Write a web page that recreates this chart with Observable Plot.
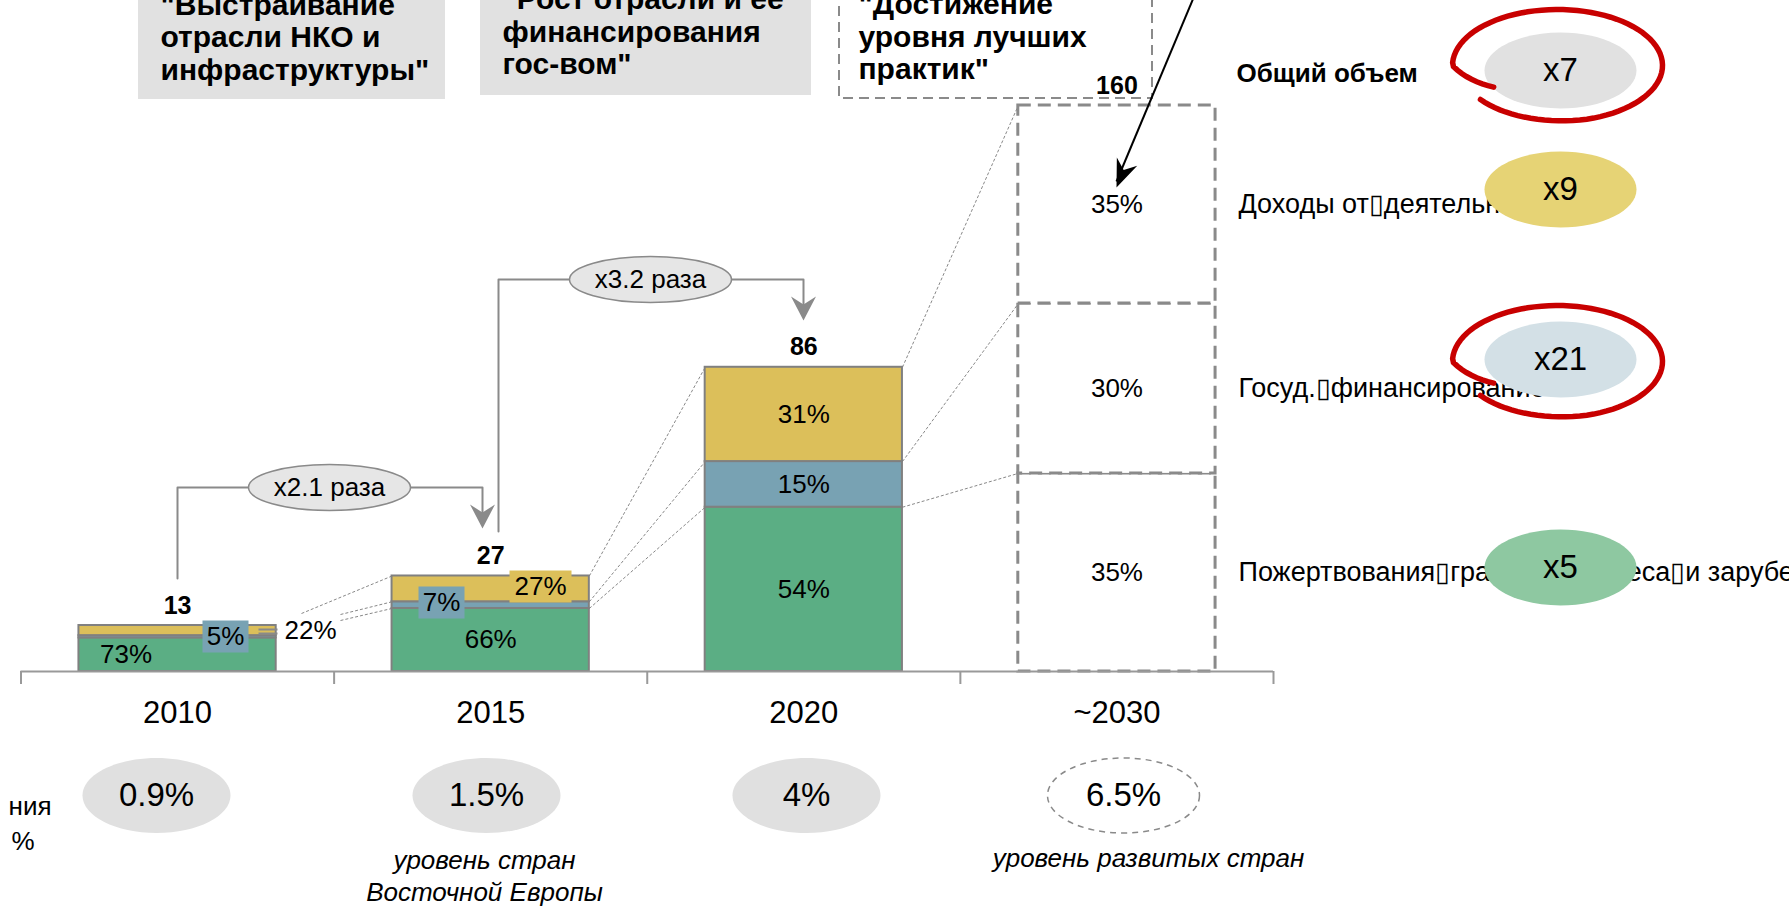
<!DOCTYPE html>
<html><head><meta charset="utf-8">
<script src="https://cdn.jsdelivr.net/npm/d3@7"></script>
<script src="https://cdn.jsdelivr.net/npm/@observablehq/plot@0.6"></script>
<style>html,body{margin:0;padding:0;background:#fff;overflow:hidden} svg{display:block}</style>
</head><body><div id="chart"></div>
<script>
// ---------------- DATA ----------------
const years = ["2010", "2015", "2020", "~2030"];
const totals = [13, 27, 86, 160];
const seriesNames = ["Пожертвования", "Госуд. финансирование", "Доходы от деятельности"]; // bottom → top
const seriesColors = ["#5BAE84", "#78A2B3", "#DCBF5A"];
const shareDonations = [73, 66, 54, 35];
const shareGov = [5, 7, 15, 30];
const shareIncome = [22, 27, 31, 35];
const gdpShare = ["0.9%", "1.5%", "4%", "6.5%"];
const growthLabels = ["x2.1 раза", "x3.2 раза"];
const multiplierLabels = ["x7", "x9", "x21", "x5"]; // total, income, gov, donations
const multiplierColors = ["#E1E1E1", "#E6D375", "#D3E0E6", "#8EC8A1"];
const rightLabels = ["Общий объем", "Доходы от\u25AFдеятельности", "Госуд.\u25AFфинансирование", "Пожертвования\u25AFграждан, бизнеса\u25AFи зарубежных фондов"];
const headerLines = [
  ['"Выстраивание', 'отрасли НКО и', 'инфраструктуры"'],
  ['"Рост отрасли и ее', 'финансирования', 'гос-вом"'],
  ['"Достижение', 'уровня лучших', 'практик"']
];
const notes = ["уровень стран\nВосточной Европы", "уровень развитых стран"];
const sideTexts = ["ния", "%"];

// ---------------- LAYOUT helpers (pixel → data units) ----------------
const W = 1789, H = 908;
const X0 = 20.5, X4 = 1273, Y0 = 671, Y160 = 105;
const fx = px => (px - X0) / ((X4 - X0) / 4);
const fy = py => (Y0 - py) / ((Y0 - Y160) / 160);
const pad = 0.185;
const FONT = "'Liberation Sans', Arial, sans-serif";
const GRAY = "#8a8a8a";

// custom symbols
const ellipse = (rx, ry) => ({draw(c) {
  const k = 0.5523;
  c.moveTo(rx, 0);
  c.bezierCurveTo(rx, k * ry, k * rx, ry, 0, ry);
  c.bezierCurveTo(-k * rx, ry, -rx, k * ry, -rx, 0);
  c.bezierCurveTo(-rx, -k * ry, -k * rx, -ry, 0, -ry);
  c.bezierCurveTo(k * rx, -ry, rx, -k * ry, rx, 0);
  c.closePath();
}});
const box = (w, h) => ({draw(c) {
  c.moveTo(-w / 2, -h / 2); c.lineTo(w / 2, -h / 2); c.lineTo(w / 2, h / 2); c.lineTo(-w / 2, h / 2); c.closePath();
}});
const head = (w, L, notch) => ({draw(c) {
  c.moveTo(0, 0); c.lineTo(w / 2, L); c.lineTo(0, L - notch); c.lineTo(-w / 2, L); c.closePath();
}});
const loop = (rx, ry) => ({draw(c) {
  const t0 = 0.82 * Math.PI, t1 = 2.78 * Math.PI, n = 90;
  for (let j = 0; j <= n; j++) {
    const t = t0 + (t1 - t0) * j / n;
    const s = t < Math.PI ? 0.72 + 0.28 * (t - t0) / (Math.PI - t0) : 1 - 0.04 * Math.max(0, t - 2.4 * Math.PI);
    const x = s * rx * Math.cos(t), y = s * ry * Math.sin(t);
    j ? c.lineTo(x, y) : c.moveTo(x, y);
  }
}});

// ---------------- derived rows ----------------
const rows = [];
years.forEach((yr, i) => {
  const parts = [shareDonations[i], shareGov[i], shareIncome[i]];
  let acc = 0;
  parts.forEach((p, k) => {
    const v = totals[i] * p / 100;
    rows.push({year: yr, i, k, series: seriesNames[k], share: p, label: p + "%",
      y1: acc, y2: acc + v, x1: i + pad, x2: i + 1 - pad});
    acc += v;
  });
});
const solid = rows.filter(d => d.i < 3);
const future = rows.filter(d => d.i === 3);

// label placements for the thin segments
const overrides = {
  "0-0": {x: fx(125.5), y: fy(654)},
  "0-1": {x: fx(225), y: fy(636), box: true},
  "0-2": {x: fx(284), y: fy(630), anchor: "start"},
  "1-1": {x: fx(441), y: fy(602), box: true},
  "1-2": {x: fx(540), y: fy(586), box: true}
};
const labels = rows.map(d => {
  const o = overrides[d.i + "-" + d.k] || {};
  return {...d, lx: o.x ?? d.i + 0.5, ly: o.y ?? (d.y1 + d.y2) / 2, box: !!o.box, anchor: o.anchor || "middle"};
});
const boxed = labels.filter(d => d.box);

// connectors between bars (segment boundaries)
const tops = i => [totals[i], totals[i] * (1 - shareIncome[i] / 100), totals[i] * shareDonations[i] / 100];
const connectors = [];
for (let i = 0; i < 3; i++) {
  const a = tops(i), b = tops(i + 1);
  for (let k = 0; k < 3; k++) {
    connectors.push({x1: i + 1 - pad, y1: a[k], x2: i + 1 + pad, y2: b[k]});
  }
}
// first group starts at the "22%" label
connectors[0].x1 = fx(301); connectors[0].y1 = fy(613);
connectors[1].x1 = fx(340); connectors[1].y1 = fy(614);
connectors[2].x1 = fx(340); connectors[2].y1 = fy(620);

// growth callouts
const callouts = [
  {id: 0, label: growthLabels[0], xa: fx(177), xb: fx(482), ys: fy(578), yt: fy(487), tip: fy(528), ex: fx(329)},
  {id: 1, label: growthLabels[1], xa: fx(498), xb: fx(803), ys: fy(531), yt: fy(279), tip: fy(320), ex: fx(650)}
];
const calloutPts = callouts.flatMap(c => [
  {id: c.id, x: c.xa, y: c.ys}, {id: c.id, x: c.xa, y: c.yt}, {id: c.id, x: c.xb, y: c.yt}, {id: c.id, x: c.xb, y: c.tip + 2}
]);

// header boxes
const headers = [
  {x1: fx(138), x2: fx(445), y1: fy(99), y2: fy(-5), tx: fx(160), ty: fy(36.5)},
  {x1: fx(480), x2: fx(811), y1: fy(95), y2: fy(-5), tx: fx(502), ty: fy(31)},
  {x1: fx(839), x2: fx(1152), y1: fy(98), y2: fy(-10), tx: fx(858), ty: fy(36)}
].map((d, j) => ({...d, text: headerLines[j].join("\n")}));

// bottom
const bottom = years.map((yr, i) => ({yr, i, v: gdpShare[i], ex: [fx(156), fx(486), fx(806), fx(1123)][i]}));

// right side
const segMid = k => { const r = future[k]; return (r.y1 + r.y2) / 2; };
const right = [
  {text: rightLabels[0], y: fy(73), bold: true, m: multiplierLabels[0], c: multiplierColors[0], ey: fy(70)},
  {text: rightLabels[1], y: segMid(2), m: multiplierLabels[1], c: multiplierColors[1], ey: fy(189)},
  {text: rightLabels[2], y: segMid(1), m: multiplierLabels[2], c: multiplierColors[2], ey: fy(359)},
  {text: rightLabels[3], y: segMid(0), m: multiplierLabels[3], c: multiplierColors[3], ey: fy(567)}
];
const loops = [{x: fx(1557), y: fy(65)}, {x: fx(1557), y: fy(361)}];

// black pointer arrow
const ap = {x1: 1194, y1: -5, x2: 1116, y2: 187};
const apAngle = Math.atan2(ap.x2 - ap.x1, -(ap.y2 - ap.y1)) * 180 / Math.PI;

const txt = (extra) => ({fontFamily: FONT, ...extra});

const chart = Plot.plot({
  width: W, height: H,
  marginLeft: X0, marginRight: W - X4, marginTop: Y160, marginBottom: H - Y0,
  x: {type: "linear", domain: [0, 4], axis: null},
  y: {type: "linear", domain: [0, 160], axis: null},
  color: {domain: seriesNames, range: seriesColors},
  style: {fontFamily: FONT, background: "#fff", color: "#000"},
  marks: [
    // headers
    Plot.rect(headers.slice(0, 2), {x1: "x1", x2: "x2", y1: "y1", y2: "y2", fill: "#E1E1E1"}),
    Plot.rect(headers.slice(2), {x1: "x1", x2: "x2", y1: "y1", y2: "y2", fill: "#fff", stroke: GRAY, strokeWidth: 2, strokeDasharray: "10,6"}),
    Plot.text(headers, {x: "tx", y: "ty", text: "text", textAnchor: "start", lineAnchor: "middle", lineHeight: 1.08, ...txt({fontSize: 30, fontWeight: "bold"})}),

    // connectors
    Plot.link(connectors, {x1: "x1", y1: "y1", x2: "x2", y2: "y2", stroke: "#888", strokeWidth: 1, strokeDasharray: "3,2"}),

    // bars
    Plot.rect(solid, {x1: "x1", x2: "x2", y1: "y1", y2: "y2", fill: "series", stroke: "#808080", strokeWidth: 2}),
    Plot.rect(future, {x1: "x1", x2: "x2", y1: "y1", y2: "y2", fill: "#fff", stroke: GRAY, strokeWidth: 3, strokeDasharray: "13,7"}),

    // axis
    Plot.ruleY([0], {x1: 0, x2: 4, stroke: "#999", strokeWidth: 2}),
    Plot.ruleX(d3.range(5), {x: d => d, y1: 0, y2: fy(684), stroke: "#999", strokeWidth: 2}),

    // label boxes + leader lines
    ...boxed.map(d => Plot.dot([d], {x: "lx", y: "ly", symbol: box(14 + 16 * d.label.length, 32), fill: seriesColors[d.k], stroke: "none"})),
    Plot.link([{x1: fx(258), x2: fx(277), y: fy(629)}, {x1: fx(258), x2: fx(277), y: fy(633)}], {x1: "x1", x2: "x2", y1: "y", y2: "y", stroke: GRAY, strokeWidth: 2}),

    // percent labels
    Plot.text(labels.filter(d => d.anchor === "middle"), {x: "lx", y: "ly", text: "label", ...txt({fontSize: 26})}),
    Plot.text(labels.filter(d => d.anchor === "start"), {x: "lx", y: "ly", text: "label", textAnchor: "start", ...txt({fontSize: 26})}),

    // totals
    Plot.text(years, {x: (d, i) => i + 0.5, y: (d, i) => totals[i], text: (d, i) => String(totals[i]), dy: -20, ...txt({fontSize: 25, fontWeight: "bold"})}),

    // growth callouts
    Plot.line(calloutPts, {x: "x", y: "y", z: "id", stroke: GRAY, strokeWidth: 2}),
    Plot.dot(callouts, {x: "xb", y: "tip", symbol: head(25, 24, 8), rotate: 180, fill: GRAY, stroke: "none"}),
    Plot.dot(callouts, {x: "ex", y: "yt", symbol: ellipse(81, 23), fill: "#E6E6E6", stroke: GRAY, strokeWidth: 1.5}),
    Plot.text(callouts, {x: "ex", y: "yt", text: "label", ...txt({fontSize: 26})}),

    // year labels
    Plot.text(years, {x: (d, i) => i + 0.5, y: fy(713), text: d => d, ...txt({fontSize: 31})}),

    // bottom ellipses
    Plot.dot(bottom.slice(0, 3), {x: "ex", y: fy(795), symbol: ellipse(74, 37.5), fill: "#E0E0E0", stroke: "none"}),
    Plot.dot(bottom.slice(3), {x: "ex", y: fy(795), symbol: ellipse(76, 37.5), fill: "none", stroke: GRAY, strokeWidth: 1.5, strokeDasharray: "6,5"}),
    Plot.text(bottom, {x: "ex", y: fy(795), text: "v", ...txt({fontSize: 33})}),
    Plot.text([notes[0]], {x: fx(484), y: fy(874), text: d => d, lineHeight: 1.23, lineAnchor: "middle", ...txt({fontSize: 26, fontStyle: "italic"})}),
    Plot.text([notes[1]], {x: fx(1148), y: fy(858), text: d => d, ...txt({fontSize: 26, fontStyle: "italic"})}),
    Plot.text(sideTexts, {x: (d, i) => [fx(51), fx(34)][i], y: (d, i) => [fy(806), fy(841)][i], text: d => d, textAnchor: "end", ...txt({fontSize: 26})}),

    // right side labels
    Plot.text(right.filter(d => d.bold), {x: fx(1236), y: "y", text: "text", textAnchor: "start", ...txt({fontSize: 26, fontWeight: "bold"})}),
    Plot.text(right.filter(d => !d.bold), {x: fx(1238), y: "y", text: "text", textAnchor: "start", ...txt({fontSize: 27})}),
    ...right.map(d => Plot.dot([d], {x: fx(1560), y: "ey", symbol: ellipse(76, 38), fill: d.c, stroke: "none"})),
    Plot.text(right, {x: fx(1560), y: "ey", text: "m", ...txt({fontSize: 33})}),
    Plot.dot(loops, {x: "x", y: "y", symbol: loop(105, 56), fill: "none", stroke: "#C80000", strokeWidth: 5.5, strokeLinecap: "round"}),

    // black pointer
    Plot.link([ap], {x1: d => fx(d.x1), y1: d => fy(d.y1), x2: d => fx(d.x2), y2: d => fy(d.y2 - 6), stroke: "#000", strokeWidth: 2}),
    Plot.dot([ap], {x: d => fx(d.x2), y: d => fy(d.y2), symbol: head(22, 28, 9), rotate: apAngle, fill: "#000", stroke: "none"})
  ]
});
document.getElementById("chart").appendChild(chart);
</script>
</body></html>
